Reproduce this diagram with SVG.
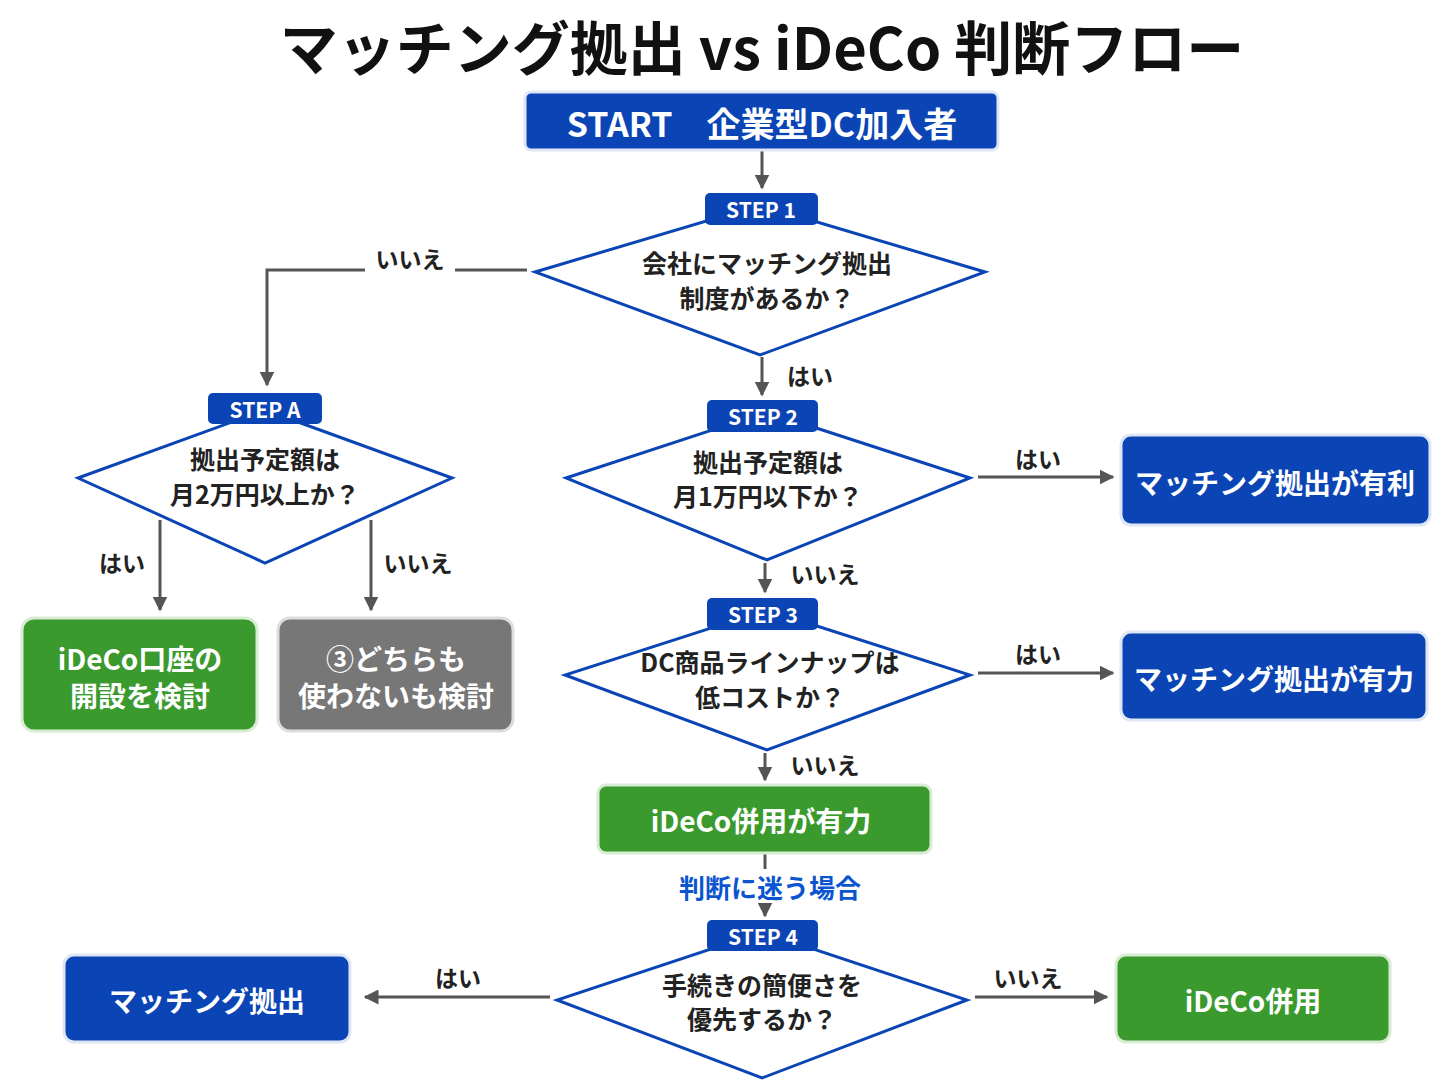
<svg xmlns="http://www.w3.org/2000/svg" width="1448" height="1086" viewBox="0 0 1448 1086">
<defs>
<marker id="ah" viewBox="0 0 10 10" refX="9" refY="5" markerWidth="5" markerHeight="5" orient="auto"><path d="M0,0 L10,5 L0,10 z" fill="#555"/></marker>
<style>
text{font-family:"Noto Sans CJK JP","Noto Sans",sans-serif;font-weight:bold;text-anchor:middle;dominant-baseline:central}
.t{font-size:58px;fill:#111}
.bw{font-size:28px;fill:#fff}
.dt{font-size:25px;fill:#222}
.lb{font-size:23px;fill:#222}
.pl{font-size:21px;fill:#fff}
.blue{fill:#0b45b5;stroke:#dfe6f5;stroke-width:3}
.green{fill:#3a9a2e;stroke:#d8ecd3;stroke-width:3}
.gray{fill:#777;stroke:#ddd;stroke-width:3}
.dia{fill:#fff;stroke:#0b45b5;stroke-width:3}
.pill{fill:#0b45b5}
.c{stroke:#555;stroke-width:3;fill:none}
.ca{stroke:#555;stroke-width:3;fill:none;marker-end:url(#ah)}
</style>
</defs>
<rect width="1448" height="1086" fill="#fff"/>
<text class="t" x="762" y="45">マッチング拠出 vs iDeCo 判断フロー</text>
<g id="connectors">
<line class="ca" x1="762" y1="150" x2="762" y2="188"/>
<polyline class="c" points="527,270 455,270"/>
<polyline class="ca" points="365,270 267,270 267,385"/>
<line class="ca" x1="160" y1="520" x2="160" y2="610"/>
<line class="ca" x1="371" y1="520" x2="371" y2="610"/>
<line class="ca" x1="762" y1="357" x2="762" y2="395"/>
<line class="ca" x1="978" y1="477" x2="1113" y2="477"/>
<line class="ca" x1="765" y1="563" x2="765" y2="592"/>
<line class="ca" x1="978" y1="673" x2="1113" y2="673"/>
<line class="ca" x1="765" y1="753" x2="765" y2="780"/>
<line class="c" x1="765" y1="853" x2="765" y2="869"/>
<line class="ca" x1="765" y1="903" x2="765" y2="916"/>
<line class="ca" x1="550" y1="997" x2="365" y2="997"/>
<line class="ca" x1="975" y1="997" x2="1107" y2="997"/>
<text class="lb" x="410" y="258">いいえ</text>
<text class="lb" x="122" y="562">はい</text>
<text class="lb" x="418" y="562">いいえ</text>
<text class="lb" x="810" y="375">はい</text>
<text class="lb" x="1038" y="458">はい</text>
<text class="lb" x="825" y="573">いいえ</text>
<text class="lb" x="1038" y="653">はい</text>
<text class="lb" x="825" y="764">いいえ</text>
<text x="770" y="886" style="font-size:26px;fill:#0b55d0">判断に迷う場合</text>
<text class="lb" x="458" y="977">はい</text>
<text class="lb" x="1028" y="977">いいえ</text>
</g>
<g id="start"><rect class="blue" x="525" y="92" width="473" height="58" rx="6"/><text class="bw" x="762" y="122" style="font-size:34px">START　企業型DC加入者</text></g>
<g id="step1"><polygon class="dia" points="760,205 985,272 760,355 535,272"/><rect class="pill" x="705" y="193" width="113" height="32" rx="5"/><text class="pl" x="761" y="209">STEP 1</text><text class="dt" x="767" y="262">会社にマッチング拠出</text><text class="dt" x="767" y="297">制度があるか？</text></g>
<g id="stepA"><polygon class="dia" points="265,410 452,478 265,563 78,478"/><rect class="pill" x="208" y="393" width="114" height="31" rx="5"/><text class="pl" x="265" y="409">STEP A</text><text class="dt" x="265" y="458">拠出予定額は</text><text class="dt" x="265" y="493">月2万円以上か？</text></g>
<g id="ideco-open"><rect class="green" x="22" y="618" width="235" height="113" rx="12"/><text class="bw" x="140" y="658">iDeCo口座の</text><text class="bw" x="140" y="695">開設を検討</text></g>
<g id="neither"><rect class="gray" x="278" y="618" width="235" height="113" rx="12"/><text class="bw" x="396" y="658">③どちらも</text><text class="bw" x="396" y="695">使わないも検討</text></g>
<g id="step2"><polygon class="dia" points="767,412 970,478 767,560 566,478"/><rect class="pill" x="707" y="400" width="111" height="32" rx="5"/><text class="pl" x="763" y="416">STEP 2</text><text class="dt" x="768" y="461">拠出予定額は</text><text class="dt" x="768" y="495">月1万円以下か？</text></g>
<g id="match-adv"><rect class="blue" x="1121" y="435" width="309" height="90" rx="10"/><text class="bw" x="1275" y="482">マッチング拠出が有利</text></g>
<g id="step3"><polygon class="dia" points="767,610 970,675 767,750 565,675"/><rect class="pill" x="707" y="598" width="111" height="32" rx="5"/><text class="pl" x="763" y="614">STEP 3</text><text class="dt" x="770" y="661">DC商品ラインナップは</text><text class="dt" x="770" y="696">低コストか？</text></g>
<g id="match-strong"><rect class="blue" x="1121" y="632" width="306" height="88" rx="10"/><text class="bw" x="1274" y="678">マッチング拠出が有力</text></g>
<g id="ideco-strong"><rect class="green" x="598" y="785" width="333" height="68" rx="8"/><text class="bw" x="761" y="820">iDeCo併用が有力</text></g>
<g id="step4"><polygon class="dia" points="762,932 967,1000 762,1078 557,1000"/><rect class="pill" x="707" y="920" width="111" height="31" rx="5"/><text class="pl" x="763" y="936">STEP 4</text><text class="dt" x="762" y="984">手続きの簡便さを</text><text class="dt" x="762" y="1018">優先するか？</text></g>
<g id="match"><rect class="blue" x="64" y="955" width="286" height="87" rx="10"/><text class="bw" x="207" y="1000">マッチング拠出</text></g>
<g id="ideco"><rect class="green" x="1116" y="955" width="274" height="87" rx="10"/><text class="bw" x="1253" y="1000">iDeCo併用</text></g>
</svg>
